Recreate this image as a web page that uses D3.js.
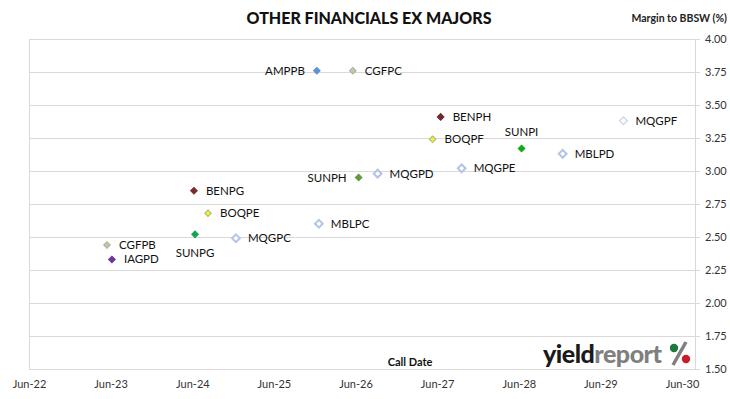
<!DOCTYPE html>
<html>
<head>
<meta charset="utf-8">
<script src="https://cdn.jsdelivr.net/npm/d3@7"></script>
<style>
  body { margin: 0; background: #fff; }
  text { font-family: Lato, "Open Sans", sans-serif; }
</style>
</head>
<body>
<div class="chart"></div>
<script>
// chart data
var codes = ["AMPPB", "CGFPC", "BENPH", "BOQPF", "SUNPI", "MBLPD", "MQGPF", "MQGPE", "MQGPD",
             "SUNPH", "BENPG", "BOQPE", "MBLPC", "SUNPG", "MQGPC", "CGFPB", "IAGPD"];
var callDates = ["2025-12-10", "2026-05-20", "2027-06-17", "2027-05-12", "2028-06-13", "2028-12-14",
                 "2029-09-12", "2027-09-19", "2026-09-08", "2026-06-15", "2024-06-08", "2024-08-10",
                 "2025-12-19", "2024-06-13", "2024-12-13", "2023-05-16", "2023-06-07"];
var margins = [3.76, 3.76, 3.41, 3.24, 3.17, 3.13, 3.38, 3.02, 2.98,
               2.95, 2.85, 2.68, 2.60, 2.52, 2.49, 2.44, 2.33];
var yTicks = [1.50, 1.75, 2.00, 2.25, 2.50, 2.75, 3.00, 3.25, 3.50, 3.75, 4.00];
var xTickYears = [2022, 2023, 2024, 2025, 2026, 2027, 2028, 2029, 2030];

// marker styles per issuer
var fills   = {AMPPB:"#5b93d6", CGFPC:"#c9cc7a", BENPH:"#6e2a2a", BOQPF:"#f2f222", SUNPI:"#18a818",
               MBLPD:"#ffffff", MQGPF:"#ffffff", MQGPE:"#ffffff", MQGPD:"#ffffff", SUNPH:"#5f9a3e",
               BENPG:"#7a2b2b", BOQPE:"#f2f222", MBLPC:"#ffffff", SUNPG:"#14a552", MQGPC:"#ffffff",
               CGFPB:"#c9cc7a", IAGPD:"#7036a0"};
var strokes = {AMPPB:"#5b93d6", CGFPC:"#9fb0c8", BENPH:"#6e2a2a", BOQPF:"#b0b090", SUNPI:"#18a818",
               MBLPD:"#b4c4e6", MQGPF:"#c8d2ea", MQGPE:"#b4c4e6", MQGPD:"#b4c4e6", SUNPH:"#5f9a3e",
               BENPG:"#7a2b2b", BOQPE:"#b0b090", MBLPC:"#b4c4e6", SUNPG:"#14a552", MQGPC:"#b4c4e6",
               CGFPB:"#9fb0c8", IAGPD:"#7036a0"};
var labelSide = {AMPPB:"left", SUNPH:"left", SUNPI:"above", SUNPG:"below"};

var width = 730, height = 399;
var plotLeft = 29, plotRight = 695, plotTop = 39, plotBottom = 369;

var svg = d3.select(".chart").append("svg")
  .attr("width", width)
  .attr("height", height);

var parse = d3.timeParse("%Y-%m-%d");
var data = codes.map(function(c, i) {
  return {code: c, date: parse(callDates[i]), value: margins[i]};
});

// ticks are ~81.7px apart, the plot frame runs a little past Jun-30
var x = d3.scaleTime()
  .domain([new Date(2022, 5, 1), new Date(2030, 5, 1)])
  .range([plotLeft, 682]);
var y = d3.scaleLinear()
  .domain([1.5, 4.0])
  .range([plotBottom, plotTop]);

// gridlines (stick out a little as tick marks on the right)
svg.append("g")
  .selectAll("line")
  .data(yTicks)
  .enter()
  .append("line")
    .attr("x1", plotLeft)
    .attr("x2", plotRight + 5)
    .attr("y1", function(d) { return Math.round(y(d)) + 0.5; })
    .attr("y2", function(d) { return Math.round(y(d)) + 0.5; })
    .style("stroke", "#d9d9d9")
    .style("stroke-width", 1);

svg.append("line")
  .attr("x1", plotLeft + 0.5).attr("x2", plotLeft + 0.5)
  .attr("y1", plotTop).attr("y2", plotBottom)
  .style("stroke", "#d9d9d9");
svg.append("line")
  .attr("x1", plotRight + 0.5).attr("x2", plotRight + 0.5)
  .attr("y1", plotTop).attr("y2", plotBottom)
  .style("stroke", "#d9d9d9");

// right axis
var yAxis = d3.axisRight(y)
  .tickValues(yTicks)
  .tickFormat(d3.format(".2f"))
  .tickSize(0)
  .tickPadding(10);
var ya = svg.append("g")
  .attr("transform", "translate(" + plotRight + ",0)")
  .call(yAxis);
ya.select(".domain").remove();
ya.selectAll("text")
  .style("font-family", "Lato")
  .style("font-size", "11px")
  .style("fill", "#333");

// bottom axis
var xAxis = d3.axisBottom(x)
  .tickValues(xTickYears.map(function(yr) { return new Date(yr, 5, 1); }))
  .tickFormat(d3.timeFormat("Jun-%y"))
  .tickSize(0)
  .tickPadding(11);
var xa = svg.append("g")
  .attr("transform", "translate(0," + plotBottom + ")")
  .call(xAxis);
xa.select(".domain").remove();
xa.selectAll("text")
  .style("font-family", "Lato")
  .style("font-size", "11px")
  .style("fill", "#333");

// titles
svg.append("text")
  .attr("x", 369).attr("y", 24)
  .attr("text-anchor", "middle")
  .style("font-size", "16px")
  .style("font-weight", "900")
  .style("fill", "#111")
  .text("OTHER FINANCIALS EX MAJORS");

svg.append("text")
  .attr("x", 727).attr("y", 22)
  .attr("text-anchor", "end")
  .style("font-size", "10.5px")
  .style("font-weight", "bold")
  .style("fill", "#222")
  .text("Margin to BBSW (%)");

svg.append("text")
  .attr("x", 410).attr("y", 366)
  .attr("text-anchor", "middle")
  .style("font-size", "11px")
  .style("font-weight", "bold")
  .style("fill", "#111")
  .text("Call Date");

// logo
var logo = svg.append("g");
var lt = logo.append("text")
  .attr("x", 543).attr("y", 363)
  .style("font-size", "25px")
  .style("font-weight", "900")
  .style("letter-spacing", "-0.5px");
lt.append("tspan").style("fill", "#1a1a1a").text("yield");
lt.append("tspan").style("fill", "#7f7f7f").text("report");
logo.append("line")
  .attr("x1", 673).attr("y1", 365).attr("x2", 686).attr("y2", 342)
  .style("stroke", "#7f7f7f").style("stroke-width", 3.5);
logo.append("circle").attr("cx", 674).attr("cy", 348).attr("r", 4.2).style("fill", "#1e7a3c");
logo.append("circle").attr("cx", 686).attr("cy", 359).attr("r", 4.2).style("fill", "#c81e28");

// markers: square turned 45 degrees, like Excel's diamond
var square = d3.symbol().type(d3.symbolSquare);
function isHollow(d) { return fills[d.code] == "#ffffff"; }
svg.append("g")
  .selectAll("path")
  .data(data)
  .enter()
  .append("path")
    .attr("transform", function(d) {
      return "translate(" + x(d.date) + "," + y(d.value) + ") rotate(45)";
    })
    .attr("d", function(d) { return square.size(isHollow(d) ? 30 : 22)(); })
    .style("fill", function(d) { return fills[d.code]; })
    .style("stroke", function(d) { return strokes[d.code]; })
    .style("stroke-width", function(d) { return isHollow(d) ? (d.code == "MQGPF" ? 1.2 : 2) : 1; });

// labels
svg.append("g")
  .selectAll("text")
  .data(data)
  .enter()
  .append("text")
    .attr("x", function(d) {
      var side = labelSide[d.code];
      if (side == "left") return x(d.date) - 12;
      if (side == "above" || side == "below") return x(d.date);
      return x(d.date) + 12;
    })
    .attr("y", function(d) {
      var side = labelSide[d.code];
      if (side == "above") return y(d.value) - 17;
      if (side == "below") return y(d.value) + 19;
      return y(d.value);
    })
    .attr("dy", ".35em")
    .attr("text-anchor", function(d) {
      var side = labelSide[d.code];
      if (side == "left") return "end";
      if (side == "above" || side == "below") return "middle";
      return "start";
    })
    .style("font-size", "11.5px")
    .style("fill", "#111")
    .text(function(d) { return d.code; });
</script>
</body>
</html>
